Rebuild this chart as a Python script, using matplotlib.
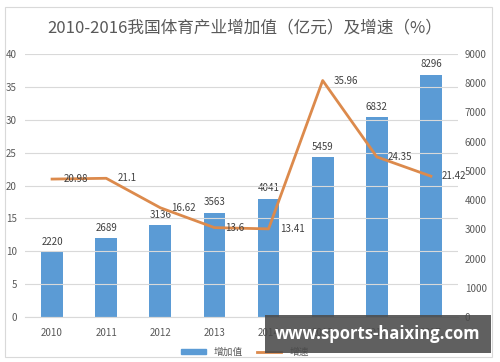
import matplotlib
matplotlib.use("Agg")
import matplotlib.pyplot as plt
from matplotlib.patches import Rectangle
from matplotlib.lines import Line2D
from matplotlib.patches import Patch

plt.rcParams['font.family'] = ['Noto Sans CJK SC', 'DejaVu Sans']

years = ['2010', '2011', '2012', '2013', '2014', '2015', '2016', '2017']
added_value = [2220, 2689, 3136, 3563, 4041, 5459, 6832, 8296]
growth = [20.98, 21.1, 16.62, 13.6, 13.41, 35.96, 24.35, 21.42]
left_ticks = [0, 5, 10, 15, 20, 25, 30, 35, 40]
right_ticks = [0, 1000, 2000, 3000, 4000, 5000, 6000, 7000, 8000, 9000]
title = '2010-2016我国体育产业增加值（亿元）及增速（%）'
legend_labels = ['增加值', '增速']
watermark = 'www.sports-haixing.com'

blue = '#5B9BD5'
orange = '#DC8A4C'
grey_txt = '#595959'

fig = plt.figure(figsize=(5, 3.62), dpi=100)
ax = fig.add_axes([0.05, 0.124, 0.866, 0.727])
ax2 = ax.twinx()

x = list(range(len(years)))

# left axis: growth line (drawn on top)
ax.set_ylim(0, 40)
ax.set_yticks(left_ticks)
ax.set_xlim(-0.5, len(years) - 0.5)
ax.set_xticks(x)
ax.set_xticklabels(years)
ax.grid(axis='y', color='#D9D9D9', linewidth=0.8)
ax.set_axisbelow(True)

ax2.set_ylim(0, 9000)
ax2.set_yticks(right_ticks)
bars = ax2.bar(x, added_value, width=0.4, color=blue, zorder=2)
for xi, v in zip(x, added_value):
    ax2.annotate(str(v), (xi, v), xytext=(0, 4), textcoords='offset points',
                 ha='center', va='bottom', fontsize=7, color='#404040')

# put line axis above bar axis
ax.set_zorder(ax2.get_zorder() + 1)
ax.patch.set_visible(False)
ax.plot(x, growth, color=orange, linewidth=2, zorder=3)
for xi, v in zip(x, growth):
    ax.annotate(f'{v:g}', (xi, v), xytext=(8, 0), textcoords='offset points',
                ha='left', va='center', fontsize=7, color='#404040')

for a in (ax, ax2):
    for s in a.spines.values():
        s.set_visible(False)
    a.tick_params(length=0, labelsize=7, colors=grey_txt)
ax.spines['bottom'].set_visible(True)
ax.spines['bottom'].set_color('#D9D9D9')
ax.tick_params(axis='x', pad=8)
ax.tick_params(axis='y', pad=6)
ax2.tick_params(axis='y', pad=5)

fig.text(0.49, 0.923, title, ha='center', va='center', fontsize=12, color=grey_txt)

handles = [Patch(color=blue), Line2D([0], [0], color=orange, linewidth=2)]
fig.legend(handles, legend_labels, loc='center', bbox_to_anchor=(0.49, 0.028),
           ncol=2, frameon=False, fontsize=7, handlelength=2.5, handleheight=0.5,
           columnspacing=1.5, labelcolor=grey_txt)

# outer border
fig.patches.append(Rectangle((0.01, 0.014), 0.974, 0.966, transform=fig.transFigure,
                             fill=False, edgecolor='#D9D9D9', linewidth=0.8))

# watermark
fig.patches.append(Rectangle((0.53, 0.025), 0.452, 0.105, transform=fig.transFigure,
                             facecolor='#4a4a4a', alpha=0.88, edgecolor='none', zorder=10))
fig.text(0.756, 0.077, watermark, ha='center', va='center', fontsize=12,
         fontweight='bold', color='white', family=['Open Sans', 'DejaVu Sans'], zorder=11)

fig.savefig('out.png', dpi=100, facecolor='white')
